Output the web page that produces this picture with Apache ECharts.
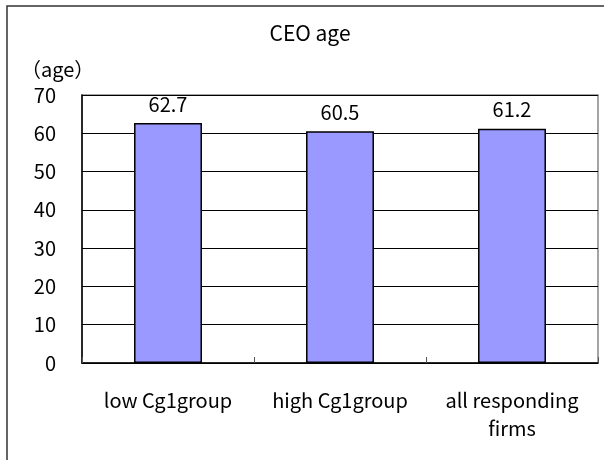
<!DOCTYPE html>
<html>
<head>
<meta charset="utf-8">
<script src="https://cdn.jsdelivr.net/npm/echarts@6/dist/echarts.min.js"></script>
<style>
html,body{margin:0;padding:0;background:#fff;}
#c{width:604px;height:460px;}
</style>
</head>
<body>
<div id="c"></div>
<script>
const titleText = 'CEO age';
const yAxisName = '（age）';
const categories = ['low Cg1group', 'high Cg1group', 'all responding\nfirms'];
const ceoAge = [62.7, 60.5, 61.2];
const yMin = 0, yMax = 70, yStep = 10;

const FONT = '"Noto Sans CJK JP", "Noto Sans", sans-serif';
const chart = echarts.init(document.getElementById('c'), null, {renderer: 'canvas'});
chart.setOption({
  animation: false,
  backgroundColor: '#fff',
  textStyle: {fontFamily: FONT},
  grid: {left: 82, top: 95, right: 6, bottom: 97, containLabel: false,
         show: true, borderColor: '#888', borderWidth: 1.5},
  graphic: [
    {type: 'rect', shape: {x: 7, y: 6, width: 700, height: 600},
     style: {fill: 'none', stroke: '#333', lineWidth: 1.5}, silent: true, z: 100},
    {type: 'text', x: 310, y: 33,
     style: {text: titleText, fontSize: 21, fontFamily: FONT, fill: '#000',
             textAlign: 'center', textVerticalAlign: 'middle'}},
    {type: 'text', x: 21, y: 69,
     style: {text: yAxisName, fontSize: 20, fontFamily: FONT, fill: '#000',
             textAlign: 'left', textVerticalAlign: 'middle'}}
  ],
  xAxis: {
    type: 'category',
    data: categories,
    boundaryGap: true,
    axisLine: {show: true, lineStyle: {color: '#000', width: 1.5}},
    axisTick: {show: true, inside: true, length: 6, alignWithLabel: false,
               lineStyle: {color: '#555', width: 1}},
    axisLabel: {color: '#000', fontSize: 20, lineHeight: 28, margin: 23,
                fontFamily: FONT, interval: 0}
  },
  yAxis: {
    type: 'value',
    min: yMin, max: yMax, interval: yStep,
    axisLine: {show: true, lineStyle: {color: '#000', width: 1.5}},
    axisTick: {show: false},
    axisLabel: {color: '#000', fontSize: 20, margin: 26, fontFamily: FONT},
    splitLine: {show: true, lineStyle: {color: '#000', width: 1}}
  },
  series: [{
    type: 'bar',
    data: ceoAge,
    barCategoryGap: '60.5%',
    itemStyle: {color: '#9999FF', borderColor: '#000', borderWidth: 1.5},
    label: {show: true, position: 'top', distance: 9, color: '#000',
            fontSize: 20, fontFamily: FONT,
            formatter: p => p.value.toFixed(1)}
  }]
});
</script>
</body>
</html>
